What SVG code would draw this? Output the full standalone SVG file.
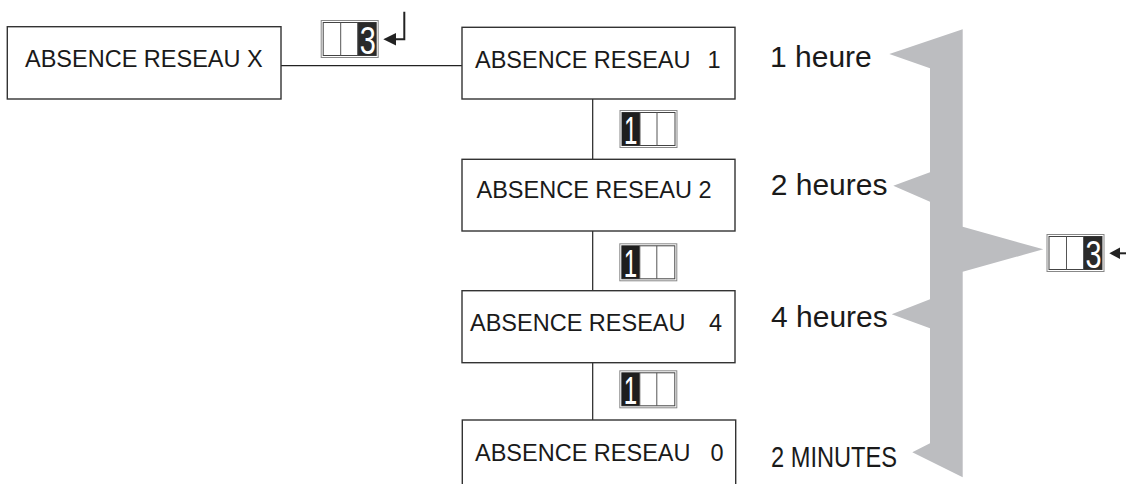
<svg xmlns="http://www.w3.org/2000/svg" width="1126" height="484" viewBox="0 0 1126 484">
<style>
.box{fill:#fff;stroke:#333;stroke-width:1.4}
.bt{font-family:"Liberation Sans",Arial,sans-serif;font-size:23.5px;fill:#1a1a1a}
.lt{font-family:"Liberation Sans",Arial,sans-serif;font-size:30px;fill:#1a1a1a}
.conn{stroke:#222;stroke-width:1.2;fill:none}
.io{fill:#fff;stroke:#888;stroke-width:1}
.ii{fill:none;stroke:#444;stroke-width:1}
.dv{stroke:#555;stroke-width:1}
.dg{font-family:"Liberation Sans",Arial,sans-serif;font-size:39px;fill:#fff}
.arr{stroke:#222;stroke-width:2;fill:none}
</style>
<defs>
<g id="indL">
<rect class="io" x="0.5" y="0.5" width="57" height="37"/>
<rect class="ii" x="2.5" y="2.5" width="53" height="33"/>
<rect x="2.5" y="2.5" width="18" height="33" fill="#1e1e1e"/>
<line class="dv" x1="20.5" y1="2.5" x2="20.5" y2="35.5"/>
<line class="dv" x1="37.5" y1="2.5" x2="37.5" y2="35.5"/>
<text class="dg" transform="translate(4.5,34) scale(0.62,1)">1</text>
</g>
<g id="indR">
<rect class="io" x="0.5" y="0.5" width="57" height="37"/>
<rect class="ii" x="2.5" y="2.5" width="53" height="33"/>
<rect x="37" y="2.5" width="18.5" height="33" fill="#2a2a2a"/>
<line class="dv" x1="20" y1="2.5" x2="20" y2="35.5"/>
<line class="dv" x1="37" y1="2.5" x2="37" y2="35.5"/>
<text class="dg" transform="translate(39,33.5) scale(0.74,1)">3</text>
</g>
</defs>
<g id="bracket">
<polygon fill="#bcbdc0" points="962.7,29.3 889.3,54 930,68.3 930,172.3 893.3,185.7 930,201.7 930,299.3 891.7,314.3 930,328.3 930,443.3 912.3,452.3 962.7,477.3 962.7,271.7 1043.3,249.3 962.7,226.7"/>
</g>
<g id="connectors">
<line class="conn" x1="281" y1="65.7" x2="462" y2="65.7"/>
<line class="conn" x1="592.7" y1="99" x2="592.7" y2="159"/>
<line class="conn" x1="592.7" y1="231" x2="592.7" y2="291"/>
<line class="conn" x1="592.7" y1="363" x2="592.7" y2="420"/>
</g>
<g id="nodeX">
<rect class="box" x="7.3" y="26.7" width="273.7" height="72.3"/>
<text class="bt" x="25" y="66.7">ABSENCE RESEAU X</text>
</g>
<g id="node1">
<rect class="box" x="462" y="27.3" width="273" height="71.7"/>
<text class="bt" x="475" y="68.3">ABSENCE RESEAU<tspan x="707.5">1</tspan></text>
</g>
<g id="node2">
<rect class="box" x="462" y="159.3" width="273" height="71.7"/>
<text class="bt" x="476.5" y="198.3">ABSENCE RESEAU 2</text>
</g>
<g id="node4">
<rect class="box" x="462" y="290.7" width="273" height="72"/>
<text class="bt" x="470" y="330.7">ABSENCE RESEAU<tspan x="709">4</tspan></text>
</g>
<g id="node0">
<rect class="box" x="462.3" y="420" width="273.4" height="80"/>
<text class="bt" x="475" y="461">ABSENCE RESEAU<tspan x="710.5">0</tspan></text>
</g>
<g id="ind-top">
<use href="#indR" x="320.7" y="20"/>
<path class="arr" d="M404.3 11.7 V39.3 H394"/>
<polygon fill="#222" points="383.3,39.3 396,33 396,45.5"/>
</g>
<g id="ind-a"><use href="#indL" x="619.5" y="110"/></g>
<g id="ind-b"><use href="#indL" x="619.3" y="243.3"/></g>
<g id="ind-c"><use href="#indL" x="619.3" y="370.3"/></g>
<g id="ind-right">
<use href="#indR" x="1046.5" y="234"/>
<line class="arr" x1="1126" y1="253.3" x2="1118" y2="253.3"/>
<polygon fill="#222" points="1109.3,253.3 1120,247.5 1120,259"/>
</g>
<g id="labels">
<text class="lt" x="770" y="66.7">1 heure</text>
<text class="lt" x="770.7" y="195">2 heures</text>
<text class="lt" x="771" y="327.3">4 heures</text>
<text class="lt" x="771" y="466.7" textLength="126" lengthAdjust="spacingAndGlyphs">2 MINUTES</text>
</g>
</svg>
